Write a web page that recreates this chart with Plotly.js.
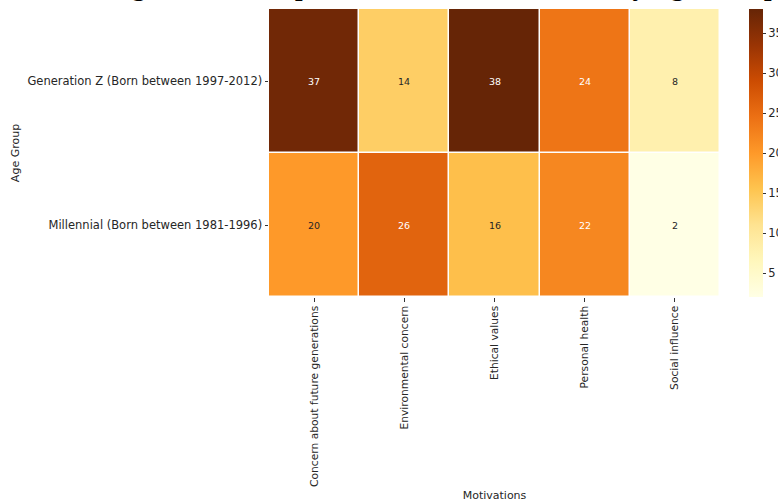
<!DOCTYPE html>
<html>
<head>
<meta charset="utf-8">
<script src="https://cdn.plot.ly/plotly-3.0.1.min.js"></script>
<style>
html,body{margin:0;padding:0;background:#fff;}
#chart{width:778px;height:502px;}
</style>
</head>
<body>
<div id="chart"></div>
<script>
var motivations = ["Concern about future generations", "Environmental concern", "Ethical values", "Personal health", "Social influence"];
var ageGroups = ["Generation Z (Born between 1997-2012)", "Millennial (Born between 1981-1996)"];
var genZ = [37, 14, 38, 24, 8];
var millennial = [20, 26, 16, 22, 2];
var colorbarTicks = [5, 10, 15, 20, 25, 30, 35];
var titleText = "Going Green: Comparison of Diet Motivations by Age Group";

var z = [genZ, millennial];
var allVals = genZ.concat(millennial);
var zmin = Math.min.apply(null, allVals);
var zmax = Math.max.apply(null, allVals);

var ylOrBr = [
  [0.0, "#ffffe5"], [0.125, "#fff7bc"], [0.25, "#fee391"], [0.375, "#fec44f"],
  [0.5, "#fe9929"], [0.625, "#ec7014"], [0.75, "#cc4c02"], [0.875, "#993404"], [1.0, "#662506"]
];

var font = "DejaVu Sans, sans-serif";

var annotations = [];
for (var r = 0; r < ageGroups.length; r++) {
  for (var c = 0; c < motivations.length; c++) {
    var v = z[r][c];
    annotations.push({
      x: motivations[c], y: ageGroups[r], xref: "x", yref: "y",
      text: String(v), showarrow: false,
      font: {family: font, size: 9.5, color: v > 21 ? "#ffffff" : "#262626"}
    });
  }
}
annotations.push({
  xref: "paper", yref: "paper", x: 1.135, y: 1, xanchor: "right", yanchor: "bottom", yshift: 6,
  text: "<b>" + titleText + "</b>", showarrow: false,
  font: {family: "Liberation Serif, Times New Roman, serif", size: 27, color: "#000"}
});

var trace = {
  type: "heatmap",
  x: motivations, y: ageGroups, z: z,
  zmin: zmin, zmax: zmax,
  colorscale: ylOrBr,
  xgap: 1.5, ygap: 1.5,
  hoverinfo: "none",
  colorbar: {
    x: 749 / 778, xanchor: "left", xref: "container", xpad: 0,
    y: 0.5, yanchor: "middle", len: 1, lenmode: "fraction", ypad: 0,
    thickness: 14, outlinewidth: 0,
    tickvals: colorbarTicks, ticks: "outside", ticklen: 3.5, tickcolor: "#333",
    tickfont: {family: font, size: 11.5, color: "#262626"}
  }
};

var layout = {
  width: 778, height: 502,
  margin: {l: 269, r: 58, t: 9, b: 205, autoexpand: false},
  paper_bgcolor: "#fff", plot_bgcolor: "#fff",
  font: {family: font, color: "#262626"},
  xaxis: {
    type: "category", tickangle: -90, ticks: "outside", ticklen: 3.5, tickcolor: "#333",
    tickfont: {family: font, size: 10.7, color: "#262626"},
    showgrid: false, zeroline: false, showline: false,
    title: {text: "Motivations", font: {family: font, size: 11, color: "#262626"}, standoff: 8}
  },
  yaxis: {
    type: "category", autorange: "reversed", ticks: "outside", ticklen: 3.5, tickcolor: "#333",
    tickfont: {family: font, size: 11.5, color: "#262626"},
    showgrid: false, zeroline: false, showline: false,
    title: {text: "Age Group", font: {family: font, size: 11, color: "#262626"}, standoff: 5}
  },
  annotations: annotations
};

Plotly.newPlot("chart", [trace], layout, {displayModeBar: false, staticPlot: true});
</script>
</body>
</html>
